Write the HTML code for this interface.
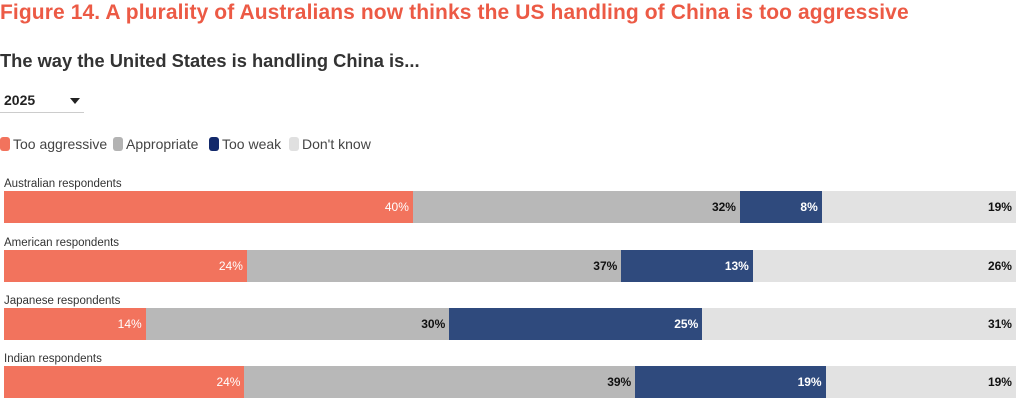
<!DOCTYPE html>
<html><head><meta charset="utf-8"><style>
body{margin:0;width:1020px;height:407px;background:#fff;font-family:"Liberation Sans",sans-serif;position:relative;overflow:hidden}
.abs{position:absolute;white-space:nowrap}
#title{left:0;top:1px;font-size:21px;font-weight:bold;color:#ec5a45;letter-spacing:0.1px}
#sub{left:0;top:50px;font-size:18.3px;font-weight:bold;color:#333}
#dd{left:0;top:91px;width:84px;height:21px;border-bottom:1px solid #ccc;font-size:14px;font-weight:bold;color:#222}
#dd span{position:absolute;left:4px;top:1px}
#dd i{position:absolute;left:70px;top:7px;border-left:5px solid transparent;border-right:5px solid transparent;border-top:6px solid #222}
.leg{top:136px;font-size:14px;color:#444;display:flex;align-items:center}
.sw{width:10px;height:14px;border-radius:3px;margin-right:3px}
.rl{font-size:11.5px;color:#333}
.seg{position:absolute;height:32px;font-size:12px;font-weight:bold;text-align:right;line-height:32px;box-sizing:border-box;padding-right:4px}
</style></head><body>
<div class="abs" id="title">Figure 14. A plurality of Australians now thinks the US handling of China is too aggressive</div>
<div class="abs" id="sub">The way the United States is handling China is...</div>
<div class="abs" id="dd"><span>2025</span><i></i></div>
<div class="abs leg" style="left:0"><div class="sw" style="background:#f2735d"></div>Too aggressive</div>
<div class="abs leg" style="left:113px"><div class="sw" style="background:#b3b3b3"></div>Appropriate</div>
<div class="abs leg" style="left:209px"><div class="sw" style="background:#12296b"></div>Too weak</div>
<div class="abs leg" style="left:289px"><div class="sw" style="background:#e0e0e0"></div>Don't know</div>
<div id="chart"></div>
<script>
const groups=["Australian respondents","American respondents","Japanese respondents","Indian respondents"];
const tooAggressive=[40,24,14,24];
const appropriate=[32,37,30,39];
const tooWeak=[8,13,25,19];
const dontKnow=[19,26,31,19];
const series=[tooAggressive,appropriate,tooWeak,dontKnow];
const names=["too-aggressive","appropriate","too-weak","dont-know"];
const colors=["#f2735d","#b8b8b8","#2f4a7d","#e2e2e2"];
const txt=["#fff","#111","#fff","#111"];
const X0=4,W=1012,rowTop=[191,250,308,366];
const c=document.getElementById('chart');
groups.forEach((g,i)=>{
  const l=document.createElement('div');
  l.className='abs rl';l.style.left='4px';l.style.top=(rowTop[i]-13)+'px';l.textContent=g;
  
  
  c.appendChild(l);
  const tot=series.reduce((s,a)=>s+a[i],0);
  let acc=0;
  series.forEach((a,k)=>{
    const x1=X0+W*acc/tot;acc+=a[i];const x2=X0+W*acc/tot;
    const d=document.createElement('div');
    d.className='seg';d.style.left=x1+'px';d.style.width=(x2-x1)+'px';d.style.top=rowTop[i]+'px';
    d.style.background=colors[k];d.style.color=txt[k];
    if(k==0)d.style.fontWeight='normal';
    d.textContent=a[i]+'%';
    
    
    c.appendChild(d);
  });
});
</script>
</body></html>
